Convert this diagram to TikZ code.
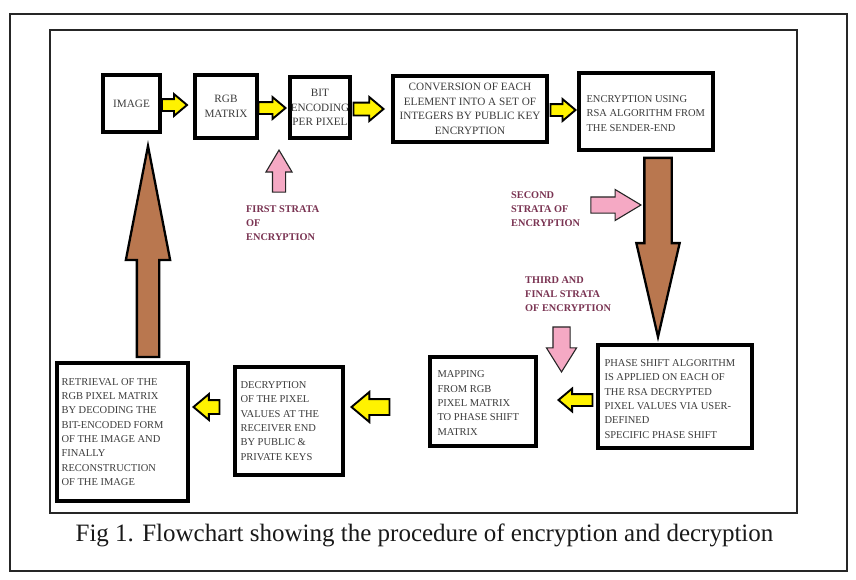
\documentclass[tikz,border=0pt]{standalone}
\usepackage{fontspec}
\setmainfont{Liberation Serif}
\usetikzlibrary{shapes.arrows,calc}
\definecolor{boxtext}{HTML}{3C3C3C}
\definecolor{labcol}{HTML}{7A3352}
\definecolor{brownarr}{HTML}{B9774F}
\definecolor{pinkarr}{HTML}{F5A9C4}
\definecolor{yelarr}{HTML}{FFF200}
\begin{document}
\begin{tikzpicture}[x=1pt,y=-1pt,
  box/.style={draw=black, line width=3.4pt, fill=white, inner sep=0pt, text=boxtext, align=center,
              font=\fontsize{11.2}{14.5}\selectfont},
  boxtxt/.style={inner sep=0pt, text=boxtext, align=left, anchor=west,
              font=\fontsize{10.5}{14.3}\selectfont},
  lab/.style={inner sep=0pt, text=labcol, align=left, anchor=north west,
              font=\fontsize{10.3}{14}\selectfont\bfseries},
  yarr/.style={single arrow, draw=black, fill=yelarr, line width=1.9pt, inner xsep=0pt,
              single arrow tip angle=80, anchor=tip},
  barr/.style={single arrow, draw=black, fill=brownarr, line width=2.3pt, inner xsep=0pt, anchor=tip},
  parr/.style={single arrow, draw=black!85, fill=pinkarr, line width=1.1pt, inner xsep=0pt, anchor=tip},
  frame/.style={draw=black!85, line width=1.6pt}
]
\useasboundingbox (0,0) rectangle (856,579);
\fill[white] (0,0) rectangle (856,579);
\draw[frame] (10,14) rectangle (847,571);
\draw[frame] (50,30) rectangle (797,513);

% top row
\node[box, minimum width=57, minimum height=57] (img) at (131.5,103.5) {IMAGE};
\node[box, minimum width=62, minimum height=63] (rgb) at (226,106.5) {RGB\\MATRIX};
\node[box, minimum width=60, minimum height=61] (bit) at (320,107.5) {BIT\\ENCODING\\PER PIXEL};
\node[box, minimum width=154, minimum height=66] (conv) at (470,109) {CONVERSION OF EACH\\ELEMENT INTO A SET OF\\INTEGERS BY PUBLIC KEY\\ENCRYPTION};
\node[box, minimum width=134, minimum height=77] (enc) at (646,111.5) {};
\node[boxtxt] (enct) at ($(enc.west)+(9,2)$) {ENCRYPTION USING\\RSA ALGORITHM FROM\\THE SENDER-END};

% bottom row
\node[box, minimum width=154, minimum height=103] (phase) at (675,396.5) {};
\node[boxtxt] (phaset) at ($(phase.west)+(8,2.5)$) {PHASE SHIFT ALGORITHM\\IS APPLIED ON EACH OF\\THE RSA DECRYPTED\\PIXEL VALUES VIA USER-\\DEFINED\\SPECIFIC PHASE SHIFT};
\node[box, minimum width=106, minimum height=89] (map) at (483,401.5) {};
\node[boxtxt] (mapt) at ($(map.west)+(9,1.5)$) {MAPPING\\FROM RGB\\PIXEL MATRIX\\TO PHASE SHIFT\\MATRIX};
\node[box, minimum width=108, minimum height=108] (dec) at (289,421) {};
\node[boxtxt] (dect) at ($(dec.west)+(7,0)$) {DECRYPTION\\OF THE PIXEL\\VALUES AT THE\\RECEIVER END\\BY PUBLIC \&\\PRIVATE KEYS};
\node[box, minimum width=131, minimum height=138] (ret) at (122.5,432) {};
\node[boxtxt] (rett) at ($(ret.west)+(6,0)$) {RETRIEVAL OF THE\\RGB PIXEL MATRIX\\BY DECODING THE\\BIT-ENCODED FORM\\OF THE IMAGE AND\\FINALLY\\RECONSTRUCTION\\OF THE IMAGE};

% yellow arrows (placed by their tips)
\node[yarr, minimum height=25, inner ysep=5, single arrow head extend=5] (y1) at (188.5,105) {};
\node[yarr, minimum height=27, inner ysep=5, single arrow head extend=5] (y2) at (287,108) {};
\node[yarr, minimum height=30, inner ysep=5.5, single arrow head extend=5.5] (y3) at (385,109) {};
\node[yarr, minimum height=25, inner ysep=5, single arrow head extend=5] (y4) at (577,110) {};
\node[yarr, minimum height=34, inner ysep=5, single arrow head extend=5.5, rotate=180] (y5) at (557,400) {};
\node[yarr, minimum height=38, inner ysep=7, single arrow head extend=7, rotate=180] (y6) at (350,407) {};
\node[yarr, minimum height=26, inner ysep=6, single arrow head extend=6, rotate=180] (y7) at (192,407) {};

% brown arrows
\node[barr, minimum height=179, inner ysep=12.5, single arrow head extend=8, single arrow tip angle=26, rotate=-90] (bdown) at (658,342) {};
\node[barr, minimum height=211, inner ysep=10, single arrow head extend=11, single arrow tip angle=22, rotate=90] (bup) at (148,140) {};

% pink arrows
\node[parr, minimum height=42, inner ysep=6, single arrow head extend=6.5, single arrow tip angle=61.5, rotate=90] (p1) at (279,149) {};
\node[parr, minimum height=50, inner ysep=7.5, single arrow head extend=7.5, single arrow tip angle=62] (p2) at (642,205) {};
\node[parr, minimum height=45, inner ysep=8, single arrow head extend=6.5, single arrow tip angle=64, rotate=-90] (p3) at (561.5,373) {};

% labels
\node[lab] (l1) at (246,205.6) {FIRST STRATA\\OF\\ENCRYPTION};
\node[lab] (l2) at (511,191.6) {SECOND\\STRATA OF\\ENCRYPTION};
\node[lab] (l3) at (525,276.6) {THIRD AND\\FINAL STRATA\\OF ENCRYPTION};

% caption
\node[inner sep=0pt, text=black!90, font=\fontsize{25}{30}\selectfont] (cap) at (424.5,535) {Fig 1. Flowchart showing the procedure of encryption and decryption};
\end{tikzpicture}
\end{document}
